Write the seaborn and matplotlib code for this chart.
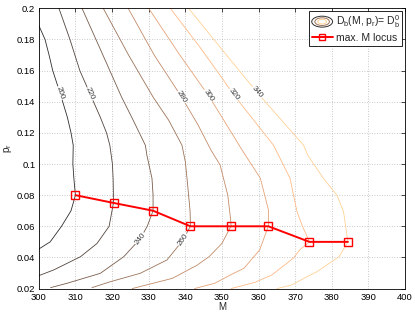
import numpy as np
import pandas as pd
import seaborn as sns
import matplotlib
matplotlib.use("Agg")
import matplotlib.pyplot as plt
from matplotlib.legend_handler import HandlerBase
from matplotlib.patches import Ellipse
from matplotlib.lines import Line2D

# ---------------- data ----------------
levels = [200, 220, 240, 260, 280, 300, 320, 340]

c200_p = [0.0454, 0.05, 0.06, 0.07, 0.08, 0.09, 0.10, 0.112, 0.12, 0.13, 0.1456, 0.16, 0.17, 0.18, 0.189]
c200_M = [300.0, 303.1, 306.2, 308.8, 310.0, 309.6, 309.3, 309.4, 308.8, 307.8, 305.8, 303.8, 302.8, 301.7, 300.0]

c220_p = [0.0283, 0.032, 0.0405, 0.049, 0.06, 0.0752, 0.09, 0.10, 0.112, 0.12, 0.13, 0.145, 0.16, 0.18, 0.2]
c220_M = [300.0, 304.1, 311.4, 315.9, 319.2, 320.4, 320.3, 320.1, 319.4, 318.5, 316.8, 314.0, 311.2, 308.5, 305.5]

c240_p = [0.0206, 0.0234, 0.0298, 0.0405, 0.052, 0.06, 0.07, 0.08, 0.0908, 0.1058, 0.112, 0.128, 0.143, 0.17, 0.2]
c240_M = [303.2, 307.7, 316.8, 323.2, 327.7, 329.6, 331.2, 331.2, 330.9, 329.5, 329.1, 325.8, 322.6, 317.5, 311.8]

c260_p = [0.0206, 0.0244, 0.0298, 0.0384, 0.0512, 0.0602, 0.07, 0.08, 0.09, 0.1015, 0.112, 0.128, 0.143, 0.17, 0.2]
c260_M = [314.5, 319.5, 327.7, 335.0, 339.4, 341.4, 341.3, 340.9, 340.5, 340.0, 339.1, 335.5, 331.2, 324.5, 317.6]

c280_p = [0.02, 0.0266, 0.035, 0.0405, 0.049, 0.0602, 0.066, 0.08, 0.0994, 0.109, 0.125, 0.143, 0.17, 0.2]
c280_M = [325.5, 336.5, 343.2, 346.5, 350.0, 352.5, 352.3, 351.6, 349.5, 347.0, 343.5, 339.0, 331.5, 324.4]

c300_p = [0.02, 0.0234, 0.0298, 0.033, 0.0448, 0.0602, 0.0705, 0.0908, 0.109, 0.132, 0.144, 0.17, 0.2]
c300_M = [342.5, 348.0, 353.2, 356.0, 360.3, 362.7, 362.7, 360.5, 355.5, 349.5, 346.3, 338.5, 330.0]

c320_p = [0.02, 0.024, 0.0287, 0.0395, 0.045, 0.05, 0.06, 0.0694, 0.0908, 0.112, 0.1445, 0.157, 0.175, 0.2]
c320_M = [352.5, 359.0, 363.6, 369.5, 371.3, 373.9, 372.0, 370.5, 368.6, 364.1, 353.2, 349.5, 344.0, 335.9]

c340_p = [0.02, 0.0223, 0.0287, 0.0308, 0.0405, 0.05, 0.0694, 0.08, 0.0908, 0.1058, 0.112, 0.146, 0.175, 0.191, 0.2]
c340_M = [365.0, 369.0, 374.1, 375.9, 382.0, 384.4, 383.2, 381.4, 377.7, 373.4, 372.3, 359.6, 349.5, 344.0, 340.9]

label_M = [305.8, 314.0, 327.7, 339.4, 339.0, 346.3, 353.2, 359.6]
label_p = [0.1456, 0.145, 0.052, 0.0512, 0.143, 0.144, 0.1445, 0.146]

locus_M = [310.0, 320.4, 331.2, 341.4, 352.5, 362.7, 373.9, 384.4]
locus_p = [0.08, 0.075, 0.07, 0.06, 0.06, 0.06, 0.05, 0.05]

xticks = [300, 310, 320, 330, 340, 350, 360, 370, 380, 390, 400]
yticks = [0.02, 0.04, 0.06, 0.08, 0.1, 0.12, 0.14, 0.16, 0.18, 0.2]
ytick_labels = ["0.02", "0.04", "0.06", "0.08", "0.1", "0.12", "0.14", "0.16", "0.18", "0.2"]

contour_M = [c200_M, c220_M, c240_M, c260_M, c280_M, c300_M, c320_M, c340_M]
contour_p = [c200_p, c220_p, c240_p, c260_p, c280_p, c300_p, c320_p, c340_p]

# ---------------- style ----------------
sns.set_theme(style="white")
plt.rcParams["font.family"] = ["Liberation Sans", "DejaVu Sans"]
plt.rcParams["mathtext.default"] = "regular"
plt.rcParams["font.size"] = 6.5

fig = plt.figure(figsize=(4.15, 3.13), dpi=100)
ax = fig.add_axes([0.0935, 0.078, 0.8825, 0.8955])
ax.set_xlim(300, 400)
ax.set_ylim(0.02, 0.2)

cmap = plt.get_cmap("copper")
base = [np.array(cmap(i / (len(levels) - 1))[:3]) for i in range(len(levels))]
colors = [tuple(0.82 * c + 0.18 * np.ones(3)) for c in base]

for lev, Ms, ps, col in zip(levels, contour_M, contour_p, colors):
    df = pd.DataFrame({"M": Ms, "p": ps})
    sns.lineplot(data=df, x="M", y="p", sort=False, estimator=None,
                 color=col, lw=0.6, ax=ax, legend=False)

# contour labels, rotated along the curve
for lev, lm, lp, Ms, ps in zip(levels, label_M, label_p, contour_M, contour_p):
    pts = ax.transData.transform(np.column_stack([Ms, ps]))
    lab = ax.transData.transform((lm, lp))
    d = np.hypot(pts[:, 0] - lab[0], pts[:, 1] - lab[1])
    i = int(np.argmin(d))
    i0, i1 = max(i - 1, 0), min(i + 1, len(pts) - 1)
    dx, dy = pts[i1] - pts[i0]
    ang = np.degrees(np.arctan2(dy, dx))
    if ang > 90:
        ang -= 180
    if ang <= -90:
        ang += 180
    ax.text(lm, lp, str(lev), rotation=ang, rotation_mode="anchor",
            ha="center", va="center", fontsize=5.8, color="#3a3a3a", zorder=4,
            bbox=dict(boxstyle="square,pad=0.05", fc="white", ec="none"))

# max. M locus
loc_df = pd.DataFrame({"M": locus_M, "p": locus_p})
sns.lineplot(data=loc_df, x="M", y="p", sort=False, estimator=None, color="red",
             lw=1.4, marker="s", markersize=6, markerfacecolor="none",
             markeredgecolor="red", markeredgewidth=1.0, ax=ax, legend=False, zorder=5)

# axes styling (MATLAB look)
ax.set_xticks(xticks)
ax.set_yticks(yticks)
ax.set_yticklabels(ytick_labels)
ax.grid(True, linestyle=(0, (1, 2)), color="#b8b8b8", lw=0.6)
ax.tick_params(direction="in", length=3, width=0.5, top=True, right=True,
               labelsize=6.8, colors="black")
ax.tick_params(axis="x", pad=3.5)
ax.tick_params(axis="y", pad=2.5)
for s in ax.spines.values():
    s.set_color("black")
    s.set_linewidth(0.6)
ax.set_xlabel("M", fontsize=7, labelpad=0)
ax.set_ylabel("p$_r$", fontsize=7, labelpad=2)


class ContourHandler(HandlerBase):
    def create_artists(self, legend, orig_handle, xdescent, ydescent,
                       width, height, fontsize, trans):
        cx = width / 2 - xdescent
        cy = height / 2 - ydescent
        arts = []
        for s, c in zip([1.0, 0.7, 0.42], [colors[0], colors[3], colors[7]]):
            e = Ellipse((cx, cy), width * s, height * 1.5 * s, fill=False,
                        edgecolor=c, lw=0.7, transform=trans)
            arts.append(e)
        return arts


contour_handle = Line2D([], [], color="black")
locus_handle = Line2D([], [], color="red", lw=1.4, marker="s", markersize=5,
                      markerfacecolor="none", markeredgecolor="red")
leg = ax.legend([contour_handle, locus_handle],
                ["D$_b$(M, p$_r$)= D$_b^0$", "max. M locus"],
                handler_map={contour_handle: ContourHandler()},
                loc="upper right", fontsize=7.5, frameon=True, fancybox=False,
                edgecolor="black", framealpha=1, borderpad=0.25,
                handlelength=2.0, handletextpad=0.3, labelspacing=0.25,
                borderaxespad=0.25)
leg.get_frame().set_linewidth(0.6)

fig.savefig("out.png", dpi=100)
